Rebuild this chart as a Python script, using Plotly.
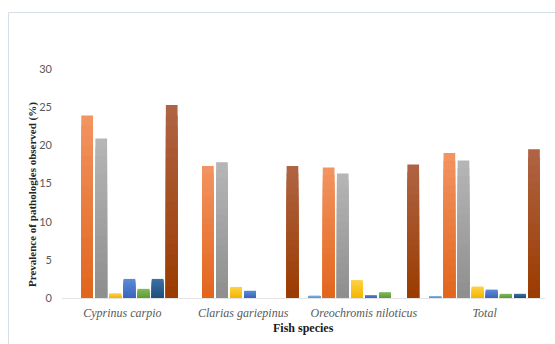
import plotly.graph_objects as go

# Fish species on the category axis
species = ["Cyprinus carpio", "Clarias gariepinus", "Oreochromis niloticus", "Total"]

# Prevalence (%) of each pathology, one list per series, in species order
s1 = [0.0, 0.0, 0.3, 0.17]
s2 = [23.9, 17.3, 17.1, 19.0]
s3 = [20.9, 17.8, 16.3, 18.0]
s4 = [0.6, 1.45, 2.35, 1.5]
s5 = [2.5, 0.95, 0.35, 1.1]
s6 = [1.2, 0.0, 0.75, 0.55]
s7 = [2.5, 0.0, 0.0, 0.55]
s8 = [25.3, 17.3, 17.5, 19.5]

series = [s1, s2, s3, s4, s5, s6, s7, s8]

# Gradient fills (bottom colour, top colour) for each series
fills = [
    ("#5b9bd5", "#86b6e4"),
    ("#e2651c", "#f29462"),
    ("#8e8e8e", "#b6b6b6"),
    ("#f2b600", "#ffd247"),
    ("#3a66bb", "#5d8bd8"),
    ("#5e9c38", "#80bb5c"),
    ("#1f4f7e", "#3d71a3"),
    ("#9a3b00", "#b06444"),
]

STEPS = 18


def mix(c1, c2, t):
    a = [int(c1[i:i + 2], 16) for i in (1, 3, 5)]
    b = [int(c2[i:i + 2], 16) for i in (1, 3, 5)]
    return "rgb({},{},{})".format(*[round(a[j] + (b[j] - a[j]) * t) for j in range(3)])


fig = go.Figure()
for i, vals in enumerate(series):
    lo, hi = fills[i]
    # Full-height bar first, then progressively shorter, darker bars over it,
    # so the fill shades smoothly from the top of each bar to its base.
    for k in range(STEPS - 1, -1, -1):
        frac = (k + 1) / STEPS
        fig.add_trace(go.Bar(
            x=species,
            y=[v * frac for v in vals],
            offsetgroup=str(i),
            marker=dict(color=mix(lo, hi, (k + 0.5) / STEPS), line=dict(width=0)),
            showlegend=False,
            hoverinfo="skip",
        ))

# Plot-area geometry in pixels, used to place the outer frame and titles
L, R, T, B = 62, 545, 69, 298
W, H = R - L, B - T


def px_x(p):
    return (p - L) / W


def px_y(p):
    return (B - p) / H


frame = "#d8dee6"
fig.add_shape(type="line", xref="paper", yref="paper",
              x0=px_x(8.5), x1=px_x(8.5), y0=px_y(12.5), y1=px_y(344),
              line=dict(color=frame, width=1))
fig.add_shape(type="line", xref="paper", yref="paper",
              x0=px_x(8.5), x1=px_x(555), y0=px_y(12.5), y1=px_y(12.5),
              line=dict(color=frame, width=1))

fig.add_annotation(
    text="<b>Prevalence of pathologies observed (%)</b>",
    xref="paper", yref="paper", x=px_x(32), y=px_y(195),
    xanchor="center", yanchor="middle",
    textangle=-90, showarrow=False,
    font=dict(family="Liberation Serif", size=11, color="#262626"),
)
fig.add_annotation(
    text="<b>Fish species</b>",
    xref="paper", yref="paper", x=px_x(303), y=px_y(328),
    xanchor="center", yanchor="middle",
    showarrow=False,
    font=dict(family="Liberation Serif", size=12, color="#1a1a1a"),
)

fig.update_layout(
    width=555, height=344,
    margin=dict(l=L, r=555 - R, t=T, b=344 - B),
    paper_bgcolor="white", plot_bgcolor="white",
    barmode="group", bargap=0.066, bargroupgap=0.17,
    xaxis=dict(
        showline=True, linecolor="#e4e4e4", linewidth=1,
        showgrid=False, ticks="",
        tickvals=species,
        ticktext=["<i>" + s + "</i>" for s in species],
        tickfont=dict(family="Liberation Serif", size=12, color="#595959"),
        ticklabelstandoff=4,
    ),
    yaxis=dict(
        range=[0, 30], tickvals=[0, 5, 10, 15, 20, 25, 30],
        showgrid=False, zeroline=False, showline=False, ticks="",
        tickfont=dict(family="Lato", size=11, color="#595959"),
        ticklabelstandoff=9,
    ),
)

fig.write_html("out.html")
